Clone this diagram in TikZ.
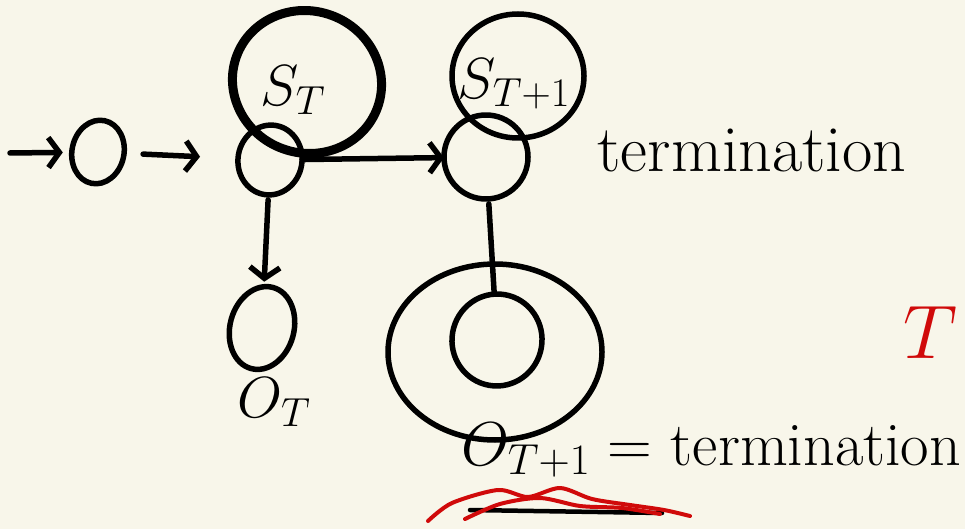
\documentclass[tikz,border=0pt]{standalone}
\usepackage{fix-cm}
\usepackage{tikz}
\usetikzlibrary{shapes.geometric,arrows.meta}

\definecolor{paper}{RGB}{248,246,234}
\definecolor{inkred}{RGB}{208,10,10}

\tikzset{
  ink/.style={line width=5.5pt, line cap=round, line join=round},
  state/.style={ellipse, draw, ink, inner sep=0pt, outer sep=0pt},
  ring/.style={ellipse, draw, line width=5.5pt, inner sep=0pt, outer sep=0pt},
  barb/.style={-{Straight Barb[length=11pt,width=30pt]}},
  hand/.style={font=\fontsize{58}{58}\selectfont},
}

\begin{document}
\begin{tikzpicture}[x=1pt, y=-1pt]

% paper
\fill[paper] (0,0) rectangle (965,529);
\useasboundingbox (0,0) rectangle (965,529);

% states and observations
\node[state, minimum width=52pt, minimum height=64pt, rotate=-12] (s0) at (98,152) {};
\node[state, minimum width=64pt, minimum height=70pt, rotate=-10] (sT) at (270,160) {};
\node[state, minimum width=84pt, minimum height=84pt] (sT1) at (486,157) {};
\node[state, minimum width=64pt, minimum height=84pt, rotate=-15] (oT) at (262,328) {};
\node[state, minimum width=90pt, minimum height=92pt, rotate=-10] (oT1) at (497,340) {};

% circled rings
\node[ring, line width=9pt, minimum width=150pt, minimum height=142pt, rotate=-20] (sTring) at (307,82) {};
\node[ring, minimum width=132pt, minimum height=124pt] (sT1ring) at (518,76) {};
\node[ring, minimum width=214pt, minimum height=176pt] (oT1ring) at (495,352) {};

% labels
\node[hand] (sTlab) at (293,90) {$S_T$};
\node[hand] (sT1lab) at (514,84) {$S_{T+1}$};
\node[hand] (oTlab) at (274,402) {$O_T$};
\node[hand, font=\fontsize{62}{62}\selectfont, anchor=west] (oT1lab) at (458,450) {$O_{T+1}=$ termination};
\node[hand, font=\fontsize{66}{66}\selectfont, anchor=west] (term) at (594,150) {termination};
\node[font=\fontsize{76}{76}\selectfont, text=inkred] (redT) at (930,333) {$T$};

% connectors
\coordinate (in) at (10,153);
\draw[ink, barb, shorten >=9pt] (in) -- (s0);
\draw[ink, barb, shorten <=19pt, shorten >=38pt] (s0) -- (sT);
\draw[ink, barb] (sT) -- (sT1);
\draw[ink, barb, shorten <=5pt, shorten >=5pt] (sT) -- (oT);
\draw[ink, shorten <=5pt] (sT1) -- (oT1);

% underline and red scribble
\draw[ink, line width=4.5pt] (470,510) -- (662,513);
\draw[ink, inkred, line width=4pt] plot[smooth] coordinates
  {(428,521) (452,503) (498,490) (528,497) (560,488) (592,499) (630,505) (664,510) (690,516)};
\draw[ink, inkred, line width=4pt] plot[smooth] coordinates
  {(465,519) (500,504) (540,498) (580,506) (622,508) (660,514)};

\end{tikzpicture}
\end{document}
